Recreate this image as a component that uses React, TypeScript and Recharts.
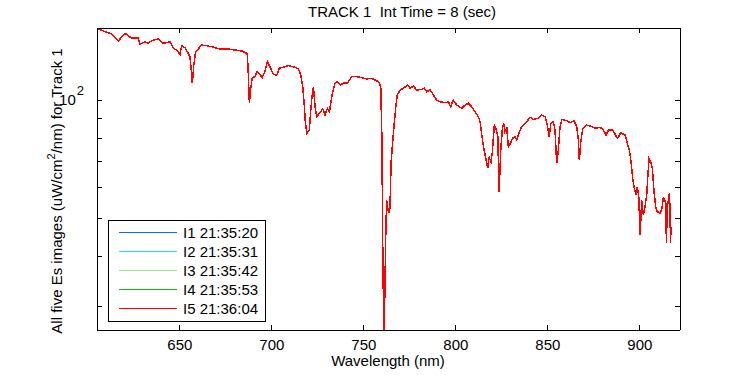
import React from 'react';
import { LineChart, Line, XAxis, YAxis, Legend } from 'recharts';

// wavelength (nm) of each reading
const wl = [
  605.7, 609.3, 613.0, 616.6, 620.2, 623.9, 627.4, 628.4, 631.1, 632.7, 635.6, 638.3, 641.0, 644.7, 646.5, 648.3,
  650.1, 651.0, 652.8, 654.1, 655.5, 656.5, 656.8, 657.6, 658.6, 661.9, 664.6, 667.3, 671.8, 676.4, 680.0, 683.6,
  686.4, 686.7, 687.2, 687.8, 688.5, 689.4, 690.9, 691.8, 693.6, 694.7, 696.3, 697.6, 699.4, 700.8, 702.7, 704.1,
  706.3, 709.0, 711.7, 714.4, 715.7, 716.8, 717.5, 718.2, 719.0, 720.4, 721.1, 721.8, 722.6, 723.5, 724.4, 726.2,
  727.7, 728.9, 730.2, 731.3, 732.0, 733.1, 734.3, 735.6, 737.1, 738.9, 741.0, 743.4, 746.1, 748.9, 751.6, 754.3,
  756.1, 758.4, 759.2, 759.9, 760.1, 760.6, 761.1, 761.9, 762.4, 763.2, 763.7, 764.2, 764.8, 765.5, 766.4, 767.3,
  768.2, 769.7, 771.5, 773.9, 775.1, 776.9, 778.8, 781.5, 782.9, 784.2, 786.0, 787.8, 789.6, 791.4, 794.1, 795.9,
  797.2, 798.6, 800.5, 803.2, 805.0, 806.8, 808.6, 810.4, 812.2, 813.2, 814.1, 815.0, 815.9, 816.8, 817.3, 818.0,
  819.1, 819.8, 820.9, 821.8, 822.8, 823.5, 824.4, 825.3, 826.0, 826.7, 827.7, 828.5, 829.6, 830.9, 832.2, 833.1,
  834.0, 835.3, 836.7, 838.5, 840.3, 842.1, 843.0, 844.8, 846.7, 848.5, 849.7, 850.7, 851.6, 853.0, 853.9, 854.8,
  855.7, 856.6, 857.6, 860.3, 862.1, 864.2, 865.7, 866.6, 867.1, 867.9, 869.0, 870.8, 873.0, 875.7, 878.4, 880.2,
  881.6, 882.9, 885.3, 887.1, 888.0, 889.6, 892.0, 893.2, 894.3, 895.2, 896.1, 897.0, 897.9, 898.6, 899.4, 900.1,
  901.0, 901.9, 902.8, 903.8, 904.3, 905.0, 905.9, 906.8, 907.7, 908.6, 909.5, 911.0, 912.0, 912.8, 913.5, 914.1,
  914.4, 914.9, 915.5, 916.0, 916.4, 916.6, 917.0,
];

// Es, uW/cm^2/nm - the five images overlap to within a pixel
const i5 = [
  151.4, 149.1, 147.1, 141.2, 147.7, 143.4, 143.9, 138.5, 140.6, 139.5, 142.0, 142.8, 139.3, 140.6, 135.3, 133.9,
  130.6, 137.3, 135.7, 132.6, 128.8, 115.7, 110.3, 122.7, 132.6, 137.9, 137.3, 136.5, 134.7, 134.7, 133.9, 133.2,
  131.4, 130.1, 117.1, 98.1, 106.6, 113.9, 114.6, 118.0, 116.2, 113.9, 118.5, 125.1, 120.4, 116.2, 115.7, 120.4,
  121.1, 122.2, 121.5, 119.9, 115.7, 108.1, 99.0, 88.1, 82.3, 83.9, 93.4, 101.9, 108.1, 96.2, 90.7, 93.1,
  94.9, 91.6, 95.3, 93.4, 98.1, 105.0, 110.3, 111.3, 109.2, 110.3, 110.3, 114.6, 114.6, 113.9, 113.1, 113.5,
  112.4, 110.9, 107.1, 76.9, 50.0, 31.7, 26.1, 45.3, 55.7, 52.6, 51.7, 53.2, 69.2, 76.4, 85.9, 95.4,
  103.0, 106.0, 107.1, 109.2, 107.1, 108.5, 106.0, 106.5, 107.1, 105.0, 106.0, 103.0, 100.0, 99.0, 98.4, 99.0,
  96.2, 100.0, 97.1, 95.3, 97.1, 98.1, 96.2, 93.4, 90.7, 88.1, 81.5, 76.1, 72.5, 69.1, 67.1, 71.8,
  69.7, 73.5, 86.4, 84.8, 80.7, 58.4, 74.6, 84.8, 87.3, 83.1, 84.8, 76.1, 77.6, 80.0, 80.7, 79.1,
  81.5, 84.8, 86.4, 88.1, 90.4, 89.3, 89.5, 89.9, 91.6, 90.7, 86.4, 80.7, 87.3, 88.1, 83.9, 69.1,
  74.6, 85.6, 89.3, 88.6, 87.6, 88.6, 85.6, 79.1, 70.4, 78.4, 84.8, 86.4, 85.9, 84.8, 85.3, 83.9,
  81.5, 83.9, 83.9, 81.0, 80.0, 82.6, 81.5, 77.6, 74.6, 69.7, 63.3, 59.7, 57.4, 60.3, 56.8, 45.4,
  55.7, 51.0, 53.6, 58.0, 63.9, 71.1, 69.7, 67.1, 58.5, 53.6, 52.1, 51.6, 53.1, 56.8, 55.7, 54.7,
  43.3, 53.6, 55.7, 58.0, 52.6, 43.4, 47.7,
];
const i1 = i5;
const i2 = i5;
const i3 = i5;
const i4 = i5;

const seriesNames = ['I1 21:35:20', 'I2 21:35:31', 'I3 21:35:42', 'I4 21:35:53', 'I5 21:36:04'];
const seriesColors = ['#0072E6', '#19E6F0', '#90F090', '#00C800', '#FF0000'];
const xTicks = [650, 700, 750, 800, 850, 900];
const yTicks = [30, 40, 50, 60, 70, 80, 90, 100];

const chartData = wl.map((w, i) => ({ wl: w, i1: i1[i], i2: i2[i], i3: i3[i], i4: i4[i], i5: i5[i] }));

const FONT = '"Liberation Sans", Arial, Helvetica, sans-serif';

const BottomTick = (props: any) => {
  const { x, y, payload } = props;
  return (
    <g>
      <line x1={x} x2={x} y1={y} y2={y - 5} stroke="#000" shapeRendering="crispEdges" />
      <text x={x} y={y + 20} textAnchor="middle" fontSize={15} fontFamily={FONT} fill="#000">{payload.value}</text>
    </g>
  );
};

const TopTick = (props: any) => {
  const { x, y } = props;
  return <line x1={x} x2={x} y1={y} y2={y + 5} stroke="#000" shapeRendering="crispEdges" />;
};

const LeftTick = (props: any) => {
  const { x, y, payload } = props;
  return (
    <g>
      <line x1={x} x2={x + 5} y1={y} y2={y} stroke="#000" shapeRendering="crispEdges" />
      {payload.value === 100 && (
        <text x={x - 13} y={y + 5} textAnchor="end" fontSize={15} fontFamily={FONT} fill="#000">
          10<tspan dx={1} dy={-10} fontSize={13}>2</tspan>
        </text>
      )}
    </g>
  );
};

const RightTick = (props: any) => {
  const { x, y } = props;
  return <line x1={x} x2={x - 5} y1={y} y2={y} stroke="#000" shapeRendering="crispEdges" />;
};

const LegendBox = () => (
  <div style={{ width: 158, height: 102, border: '1px solid #000', background: '#fff', boxSizing: 'border-box' }}>
    <svg width={156} height={100} style={{ display: 'block' }}>
      {seriesNames.map((name, i) => {
        const cy = 11.5 + i * 19;
        return (
          <g key={name}>
            <line x1={10} x2={68} y1={cy} y2={cy} stroke={seriesColors[i]} strokeWidth={1} shapeRendering="crispEdges" />
            <text x={74} y={cy + 5.5} fontSize={15} fontFamily={FONT} fill="#000">{name}</text>
          </g>
        );
      })}
    </svg>
  </div>
);

const App: React.FC = () => {
  return (
    <div style={{ position: 'absolute', left: 0, top: 0, width: 750, height: 375, background: '#fff' }}>
      <style>{'.recharts-line-curve, .recharts-cartesian-axis-line { shape-rendering: crispEdges; }'}</style>
      <LineChart width={750} height={375} data={chartData} margin={{ top: 0, right: 0, bottom: 0, left: 0 }}>
        <XAxis
          xAxisId="bottom"
          dataKey="wl"
          type="number"
          domain={[605, 921.8]}
          allowDataOverflow
          ticks={xTicks}
          interval={0}
          height={45}
          tickSize={0}
          tickMargin={0}
          tickLine={false}
          axisLine={{ stroke: '#000' }}
          tick={BottomTick}
        />
        <XAxis
          xAxisId="top"
          orientation="top"
          dataKey="wl"
          type="number"
          domain={[605, 921.8]}
          allowDataOverflow
          ticks={xTicks}
          interval={0}
          height={28}
          tickSize={0}
          tickMargin={0}
          tickLine={false}
          axisLine={{ stroke: '#000' }}
          tick={TopTick}
        />
        <YAxis
          yAxisId="left"
          type="number"
          scale="log"
          domain={[26.1, 152.3]}
          allowDataOverflow
          ticks={yTicks}
          interval={0}
          width={97}
          tickSize={0}
          tickMargin={0}
          tickLine={false}
          axisLine={{ stroke: '#000' }}
          tick={LeftTick}
        />
        <YAxis
          yAxisId="right"
          orientation="right"
          type="number"
          scale="log"
          domain={[26.1, 152.3]}
          allowDataOverflow
          ticks={yTicks}
          interval={0}
          width={70}
          tickSize={0}
          tickMargin={0}
          tickLine={false}
          axisLine={{ stroke: '#000' }}
          tick={RightTick}
        />
        {['i1', 'i2', 'i3', 'i4', 'i5'].map((key, i) => (
          <Line
            key={key}
            xAxisId="bottom"
            yAxisId="left"
            dataKey={key}
            name={seriesNames[i]}
            type="linear"
            stroke={seriesColors[i]}
            strokeWidth={1.5}
            dot={false}
            activeDot={false}
            isAnimationActive={false}
          />
        ))}
        <Legend
          layout="vertical"
          align="center"
          verticalAlign="middle"
          wrapperStyle={{ left: 108, top: 220, width: 158, height: 102 }}
          content={() => <LegendBox />}
        />
      </LineChart>
      <svg width={750} height={375} style={{ position: 'absolute', left: 0, top: 0, pointerEvents: 'none' }}>
        <text x={402} y={17} textAnchor="middle" fontSize={15} fontFamily={FONT} fill="#000" xmlSpace="preserve">
          TRACK 1  Int Time = 8 (sec)
        </text>
        <text x={388} y={366} textAnchor="middle" fontSize={15} fontFamily={FONT} fill="#000">Wavelength (nm)</text>
        <text transform="translate(62,191) rotate(-90)" textAnchor="middle" fontSize={15} fontFamily={FONT} fill="#000">
          All five Es images (uW/cm<tspan dy={-7} fontSize={11}>2</tspan><tspan dy={7}>/nm) for Track 1</tspan>
        </text>
      </svg>
    </div>
  );
};

export default App;
